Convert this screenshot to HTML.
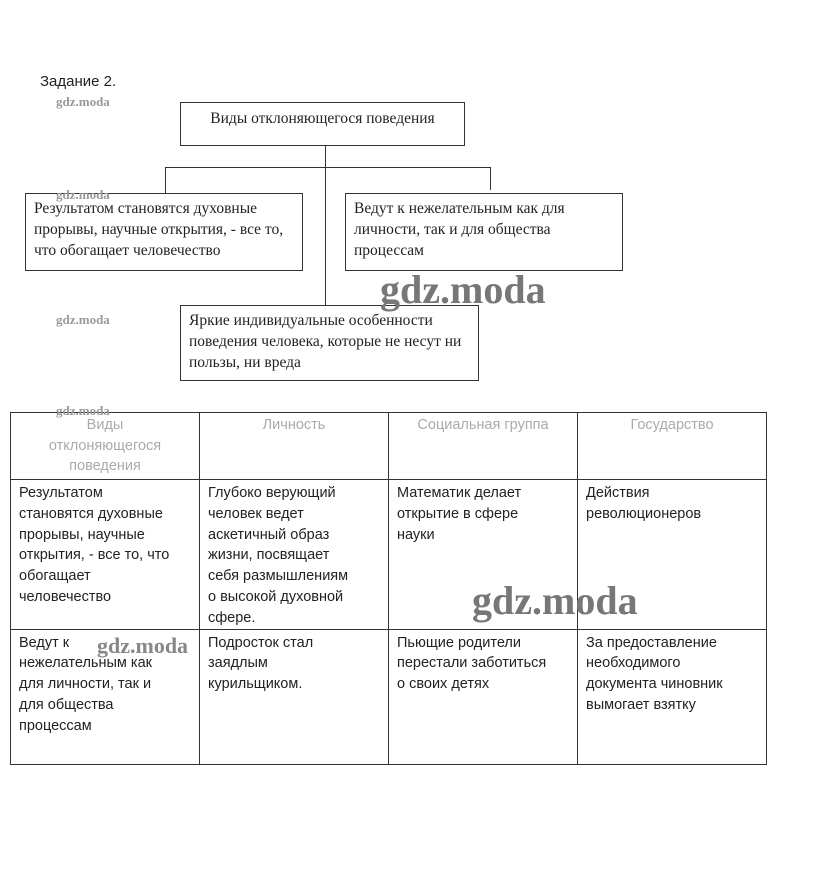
<!DOCTYPE html>
<html><head><meta charset="utf-8"><style>
body{margin:0;width:823px;height:896px;background:#fff;position:relative;overflow:hidden;font-family:"Liberation Sans",sans-serif;color:#222}
.a{position:absolute}
.box{position:absolute;border:1px solid #333;box-sizing:border-box;font-family:"Liberation Serif",serif;font-size:15.5px;line-height:21px;padding:6px 8px;white-space:nowrap}
.l{position:absolute;background:#333}
.wm{position:absolute;font-family:"Liberation Serif",serif;font-weight:bold;color:#999}
table{position:absolute;left:10px;top:412px;border-collapse:collapse;font-size:14.5px;line-height:20.8px;table-layout:fixed;width:757px}
td{border:1px solid #333;vertical-align:top;padding:3px 8px 0 8px;width:189px;white-space:nowrap;overflow:hidden;box-sizing:border-box}
.h td{color:#aaa;text-align:center;line-height:20.5px;padding-top:2px}
</style></head><body>
<div class="a" style="left:40px;top:73px;font-size:15px">Задание 2.</div>
<div class="box" style="left:180px;top:102px;width:285px;height:44px;text-align:center;padding-top:5px">Виды отклоняющегося поведения</div>
<div class="l" style="left:325px;top:146px;width:1px;height:159px"></div>
<div class="l" style="left:165px;top:167px;width:326px;height:1px"></div>
<div class="l" style="left:165px;top:167px;width:1px;height:26px"></div>
<div class="l" style="left:490px;top:167px;width:1px;height:23px"></div>
<div class="box" style="left:25px;top:193px;width:278px;height:78px;padding-top:4px">Результатом становятся духовные<br>прорывы, научные открытия, - все то,<br>что обогащает человечество</div>
<div class="box" style="left:345px;top:193px;width:278px;height:78px;padding-top:4px">Ведут к нежелательным как для<br>личности, так и для общества<br>процессам</div>
<div class="box" style="left:180px;top:305px;width:299px;height:76px;padding-top:4px">Яркие индивидуальные особенности<br>поведения человека, которые не несут ни<br>пользы, ни вреда</div>
<table>
<tr class="h" style="height:67px"><td>Виды<br>отклоняющегося<br>поведения</td><td>Личность</td><td>Социальная группа</td><td>Государство</td></tr>
<tr style="height:149px"><td>Результатом<br>становятся духовные<br>прорывы, научные<br>открытия, - все то, что<br>обогащает<br>человечество</td><td>Глубоко верующий<br>человек ведет<br>аскетичный образ<br>жизни, посвящает<br>себя размышлениям<br>о высокой духовной<br>сфере.</td><td>Математик делает<br>открытие в сфере<br>науки</td><td>Действия<br>революционеров</td></tr>
<tr style="height:135px"><td>Ведут к<br>нежелательным как<br>для личности, так и<br>для общества<br>процессам</td><td>Подросток стал<br>заядлым<br>курильщиком.</td><td>Пьющие родители<br>перестали заботиться<br>о своих детях</td><td>За предоставление<br>необходимого<br>документа чиновник<br>вымогает взятку</td></tr>
</table>
<div class="wm" style="left:56px;top:94px;font-size:13px">gdz.moda</div>
<div class="wm" style="left:56px;top:187px;font-size:13px">gdz.moda</div>
<div class="wm" style="left:56px;top:312px;font-size:13px">gdz.moda</div>
<div class="wm" style="left:56px;top:403px;font-size:13px">gdz.moda</div>
<div class="wm" style="left:380px;top:266px;font-size:40px;color:#777">gdz.moda</div>
<div class="wm" style="left:472px;top:577px;font-size:40px;color:#777">gdz.moda</div>
<div class="wm" style="left:97px;top:633px;font-size:22px;color:#888">gdz.moda</div>
</body></html>
